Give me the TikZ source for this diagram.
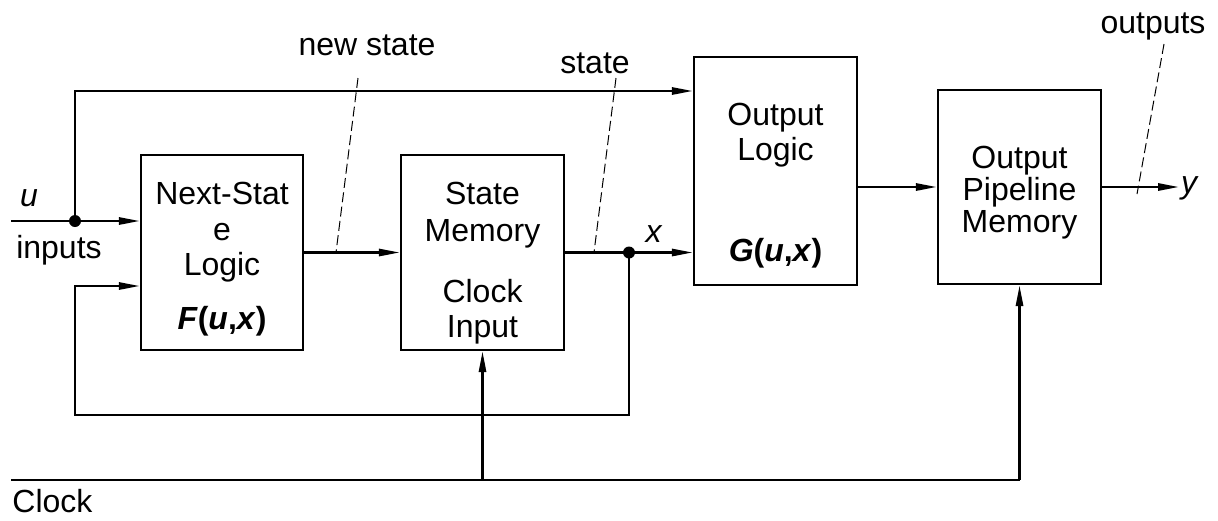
\documentclass[tikz,border=0pt]{standalone}
\usepackage{fontspec}
\setmainfont{Liberation Sans}
\usetikzlibrary{arrows.meta}
\begin{document}
\begin{tikzpicture}[x=0.5pt,y=-0.5pt,
  font=\fontsize{16pt}{17.5pt}\selectfont,
  wire/.style={line width=1.2pt},
  flow/.style={wire,-{Triangle[length=10.5pt,width=3.6pt]}},
  block/.style={draw,line width=1.2pt,inner sep=0pt,minimum width=81.5pt},
  txt/.style={inner sep=0pt,anchor=base},
  lead/.style={line width=0.5pt,dash pattern=on 5pt off 2.2pt},
  junction/.style={circle,fill=black,inner sep=0pt,minimum size=6pt}]

\useasboundingbox (0,0) rectangle (1218,520);

% blocks
\node[block,minimum width=81pt,minimum height=97.5pt] (ns) at (222,252.5) {};
\node[block,minimum height=97.5pt] (sm) at (482.5,252.5) {};
\node[block,minimum height=114pt] (ol) at (775.5,171) {};
\node[block,minimum height=97pt] (pp) at (1019.5,187) {};

% block texts
\node[txt] (ns1) at (222,204) {Next-Stat};
\node[txt] (ns2) at (222,240) {e};
\node[txt] (ns3) at (222,275) {Logic};
\node[txt] (ns4) at (222,329) {\textbf{\textit{F}(\textit{u},\textit{x})}};

\node[txt] (sm1) at (482.5,204) {State};
\node[txt] (sm2) at (482.5,241) {Memory};
\node[txt] (sm3) at (482.5,302) {Clock};
\node[txt] (sm4) at (482.5,337) {Input};

\node[txt] (ol1) at (775.5,125) {Output};
\node[txt] (ol2) at (775.5,160) {Logic};
\node[txt] (ol3) at (775.5,261) {\textbf{\textit{G}(\textit{u},\textit{x})}};

\node[txt] (pp1) at (1019.5,168) {Output};
\node[txt] (pp2) at (1019.5,200) {Pipeline};
\node[txt] (pp3) at (1019.5,232) {Memory};

% signal labels
\node[txt] (lu) at (29,206) {\textit{u}};
\node[txt] (lin) at (59,258) {inputs};
\node[txt] (lx) at (654,242) {\textit{x}};
\node[txt] (ly) at (1190,193) {\textit{y}};
\node[txt] (lns) at (367,55) {new state};
\node[txt] (lst) at (595,73) {state};
\node[txt] (lout) at (1153,33) {outputs};
\node[txt,anchor=base west] (lclk) at (12,512) {Clock};

% wiring points
\coordinate (uin) at (11,221);
\coordinate (ujoin) at (75,221);
\coordinate (tl) at (75,91);
\coordinate (xdot) at (629,252.5);
\coordinate (fb1) at (629,415);
\coordinate (fb2) at (75,415);
\coordinate (fb3) at (75,286);
\coordinate (yend) at (1179,187);
\coordinate (clk) at (11,480);
\coordinate (clkend) at (1019.5,480);

% inputs and bypass to the output logic
\draw[wire] (uin) -- (ujoin);
\draw[flow] (ujoin) -- (ujoin -| ns.west);
\draw[flow] (ujoin) -- (tl) -- (tl -| ol.west);

% state path
\draw[flow] (ns.east) -- (sm.west);
\draw[flow] (sm.east) -- (sm.east -| ol.west);
\draw[flow] (xdot) -- (fb1) -- (fb2) -- (fb3) -- (fb3 -| ns.west);

% outputs
\draw[flow] (ol.east |- pp.west) -- (pp.west);
\draw[flow] (pp.east) -- (yend);

% clock distribution
\draw[wire] (clk) -- (clkend);
\draw[flow] (clkend) -- (pp.south);
\draw[flow] (sm.south |- clk) -- (sm.south);

% junction dots
\node[junction] (j1) at (ujoin) {};
\node[junction] (j2) at (xdot) {};

% dashed leaders to the signal names
\draw[lead] (358,78) -- (336,252.5);
\draw[lead] (616,78) -- (594,252.5);
\draw[lead] (1164,44) -- (1137,194);
\end{tikzpicture}
\end{document}
